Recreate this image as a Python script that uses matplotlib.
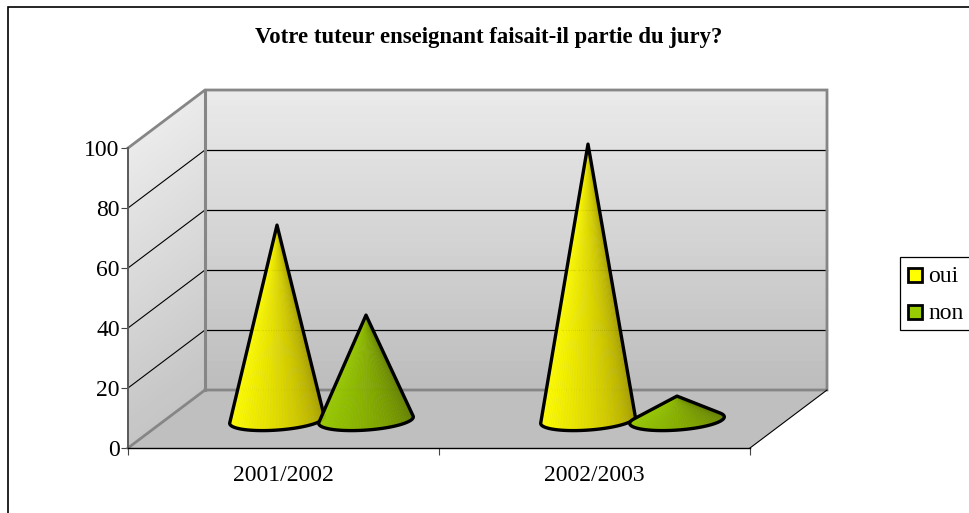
import numpy as np
from matplotlib import pyplot as plt
from matplotlib.collections import PolyCollection
from matplotlib.patches import Polygon, Rectangle

plt.rcParams['font.family'] = ['Liberation Serif', 'DejaVu Serif']

title = "Votre tuteur enseignant faisait-il partie du jury?"
years = ['2001/2002', '2002/2003']
series = ['oui', 'non']
oui = [65, 92]
non = [35, 8]
y_ticks = [0, 20, 40, 60, 80, 100]

colors = {'oui': (1.0, 1.0, 0.0), 'non': (0.6, 0.8, 0.0)}

# depth of the 3d box, in data units
DX = 77 / 311
DY = 58 / 3
PX_X = 311
PX_Y = 3


def draw_cone(ax, x, value, rgb, z):
    # base circle on the floor, seen in the same skew as the box
    half = 45 / PX_X
    bx, by = 14.6 / PX_X, 10.5 / PX_Y
    y0 = 9.3
    t = np.radians(np.linspace(-270, 90, 361))
    px = x + half * np.cos(t) + bx * np.sin(t)
    py = y0 + by * np.sin(t)

    # silhouette: tangents from the apex to the base ellipse
    ang = np.arctan2((px - x) * PX_X, (y0 + value - py) * PX_Y)
    i0, i1 = np.argmin(ang), np.argmax(ang)
    px, py = px[i0:i1 + 1], py[i0:i1 + 1]

    step = 4
    polys, face = [], []
    n = len(px)
    for i in range(0, n - 1, step):
        j = min(i + step, n - 1)
        polys.append([(x, y0 + value), (px[i], py[i]), (px[j], py[j])])
        # bright on the left, dark on the right
        shade = 1 - 0.42 * (i / (n - 1)) ** 1.7
        face.append((rgb[0] * shade, rgb[1] * shade * (1 - 0.05 * i / n), rgb[2]))
    ax.add_collection(PolyCollection(polys, facecolors=face, edgecolors=face,
                                     linewidths=0.3, clip_on=False, zorder=z))
    outline = np.vstack([[(x, y0 + value)], np.column_stack([px, py])])
    ax.add_patch(Polygon(outline, closed=True, fill=False, edgecolor='black',
                         linewidth=2.4, joinstyle='round', clip_on=False, zorder=z + 0.1))


fig = plt.figure(figsize=(9.69, 5.13), dpi=100)
# chart frame, only its left and top sides fall inside the picture
fig.add_artist(Rectangle((8 / 969, -0.05), 970 / 969, 1.05 - 7.5 / 513, transform=fig.transFigure,
                         fill=False, edgecolor='black', linewidth=1.2))

ax = fig.add_axes([128 / 969, 1 - 448 / 513, 622 / 969, 300 / 513])
ax.patch.set_visible(False)
for s in ax.spines.values():
    s.set_visible(False)

# walls: banded vertical gradient, the left wall follows the skew of the box
levels = np.linspace(0, 100, 41)
back_shades = np.linspace(0.74, 0.915, 40).reshape(-1, 1)
left_shades = np.linspace(0.77, 0.915, 40).reshape(-1, 1)
ax.pcolormesh([DX, 2 + DX], levels + DY, back_shades, cmap='gray', vmin=0, vmax=1, zorder=0,
              clip_on=False, edgecolors='face', linewidth=0.2)
ax.pcolormesh(np.array([[0, DX]] * 41), np.column_stack([levels, levels + DY]), left_shades, cmap='gray',
              vmin=0, vmax=1, zorder=0, clip_on=False, edgecolors='face', linewidth=0.2)

# floor
ax.add_patch(Polygon([(0, 0), (2, 0), (2 + DX, DY), (DX, DY)], facecolor='#bfbfbf',
                     edgecolor='none', zorder=1, clip_on=False))

# gridlines on back and left walls
for v in y_ticks[1:-1]:
    ax.plot([0, DX], [v, v + DY], color='black', lw=0.8, zorder=2, clip_on=False)
    ax.plot([DX, 2 + DX], [v + DY, v + DY], color='black', lw=0.9, zorder=2, clip_on=False)

gray = '#868686'
ax.plot([DX, DX], [DY, 100 + DY], color=gray, lw=2.2, zorder=3, clip_on=False)
ax.plot([0, DX, 2 + DX, 2 + DX, DX], [100, 100 + DY, 100 + DY, DY, DY], color=gray, lw=2.0,
        zorder=3, clip_on=False, solid_joinstyle='miter')
ax.plot([0, DX], [0, DY], color=gray, lw=2.0, zorder=3, clip_on=False)
ax.plot([2, 2 + DX], [0, DY], color='black', lw=0.8, zorder=3, clip_on=False)
ax.plot([0, 0], [0, 100], color='#5a5a5a', lw=1.4, zorder=4, clip_on=False)
ax.plot([0, 2], [0, 0], color='black', lw=1.0, zorder=4, clip_on=False)

for k in range(len(years)):
    draw_cone(ax, k + 0.5 + DX / 2 - 45 / PX_X, oui[k], colors['oui'], 5)
    draw_cone(ax, k + 0.5 + DX / 2 + 44 / PX_X, non[k], colors['non'], 6)

ax.set_xlim(0, 2)
ax.set_ylim(0, 100)
ax.set_yticks(y_ticks)
ax.set_xticks([0, 1, 2])
ax.set_xticklabels([])
ax.set_xticks([0.5, 1.5], labels=years, minor=True)
ax.tick_params(axis='x', which='minor', length=0, labelsize=17, pad=12)
ax.tick_params(axis='x', which='major', length=5, width=0.8, color='#444444')
ax.tick_params(axis='y', length=5, width=0.8, labelsize=17, pad=1, color='#444444')

fig.text(488.5 / 969, 1 - 38 / 513, title, ha='center', va='center', fontsize=16.4, fontweight='bold')

# legend box runs off the right edge of the picture
lx0, ly0, ly1 = 899.5, 256.5, 330
fig.add_artist(Rectangle((lx0 / 969, 1 - ly1 / 513), 80 / 969, (ly1 - ly0) / 513, transform=fig.transFigure,
                         facecolor='white', edgecolor='black', linewidth=0.9))
for name, yc in zip(series, [275, 311.5]):
    fig.add_artist(Rectangle((908 / 969, 1 - (yc + 7) / 513), 14 / 969, 14 / 513, transform=fig.transFigure,
                             facecolor=colors[name], edgecolor='black', linewidth=2))
    fig.text(928 / 969, 1 - (yc + 2) / 513, name, ha='left', va='center', fontsize=17)

fig.savefig('out.png', dpi=100)
